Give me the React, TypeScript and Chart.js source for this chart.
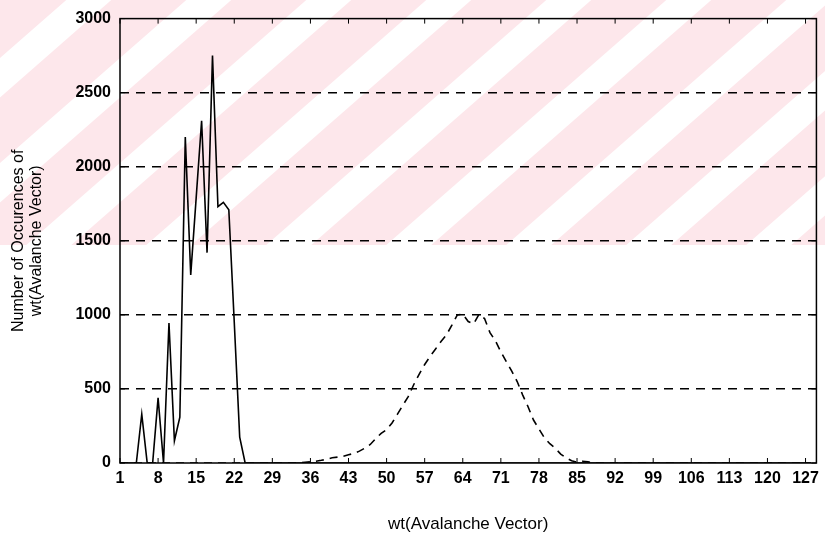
import React, { useEffect, useRef } from "react";
import { Chart, registerables } from "chart.js";

Chart.register(...registerables);

const xTickLabels = [1, 8, 15, 22, 29, 36, 43, 50, 57, 64, 71, 78, 85, 92, 99, 106, 113, 120, 127];
const yTickValues = [0, 500, 1000, 1500, 2000, 2500, 3000];

// solid series: x = 1..24, zero afterwards up to 128
const solidX = [1, 2, 3, 4, 5, 6, 7, 8, 9, 10, 11, 12, 13, 14, 15, 16, 17, 18, 19, 20, 21, 22, 23, 24, 128];
const solidY = [0, 0, 0, 0, 330, 0, 0, 440, 0, 945, 150, 310, 2200, 1270, 1790, 2310, 1420, 2750, 1730, 1760, 1710, 950, 175, 0, 0];

// dashed series
const dashedX = [1, 33, 34, 35, 36, 37, 38, 39, 40, 41, 42, 43, 44, 45, 46, 47, 48, 49, 50, 51, 52, 53, 54, 55, 56, 57, 58, 59, 60, 61, 62, 63, 64, 65, 66, 67, 68, 69, 70, 71, 72, 73, 74, 75, 76, 77, 78, 79, 80, 81, 82, 83, 84, 85, 86, 87, 88, 128];
const dashedY = [0, 0, 2, 5, 8, 12, 18, 25, 35, 40, 45, 55, 65, 80, 100, 125, 165, 200, 225, 270, 330, 390, 450, 530, 600, 665, 720, 770, 820, 865, 930, 1000, 1005, 955, 940, 1005, 975, 880, 825, 750, 685, 620, 550, 460, 380, 290, 230, 170, 130, 100, 60, 35, 15, 5, 12, 8, 0, 0];

const FONT = "Liberation Sans, Arial, Helvetica, sans-serif";

const watermark = {
  id: "watermark",
  beforeDraw(chart: any) {
    const ctx = chart.ctx;
    const w = chart.width;
    const h = 245;
    ctx.save();
    ctx.beginPath();
    ctx.rect(0, 0, w, h);
    ctx.clip();
    ctx.fillStyle = "#fde7eb";
    ctx.fillRect(0, 0, w, h);
    ctx.fillStyle = "#ffffff";
    // white diagonal bands (lower-left to upper-right)
    const slope = 0.875;
    const period = 120;
    const bw = 45;
    for (let c = -400; c < 1200; c += period) {
      const dx = 300 / slope;
      ctx.beginPath();
      ctx.moveTo(c - dx, 300 + 93);
      ctx.lineTo(c + dx, -300 + 93);
      ctx.lineTo(c + dx + bw, -300 + 93);
      ctx.lineTo(c - dx + bw, 300 + 93);
      ctx.closePath();
      ctx.fill();
    }
    ctx.restore();
  },
};

const frame = {
  id: "frame",
  afterDatasetsDraw(chart: any) {
    const { ctx, chartArea } = chart;
    const { left, right, top, bottom } = chartArea;
    const xs = chart.scales.x;
    const ys = chart.scales.y;
    ctx.save();
    ctx.strokeStyle = "#000";
    ctx.lineWidth = 1.5;
    ctx.strokeRect(left, top, right - left, bottom - top);
    ctx.lineWidth = 1;
    ctx.beginPath();
    for (const v of xTickLabels) {
      const px = xs.getPixelForValue(v);
      ctx.moveTo(px, bottom);
      ctx.lineTo(px, bottom - 5);
      ctx.moveTo(px, top);
      ctx.lineTo(px, top + 5);
    }
    for (const v of yTickValues) {
      const py = ys.getPixelForValue(v);
      ctx.moveTo(left, py);
      ctx.lineTo(left + 5, py);
      ctx.moveTo(right, py);
      ctx.lineTo(right - 5, py);
    }
    ctx.stroke();
    ctx.restore();
  },
};

export default function App() {
  const ref = useRef<HTMLCanvasElement>(null);
  useEffect(() => {
    if (!ref.current) return;
    const chart = new Chart(ref.current, {
      type: "line",
      data: {
        datasets: [
          {
            data: solidX.map((x, i) => ({ x, y: solidY[i] })),
            borderColor: "#000",
            borderWidth: 1.6,
            pointRadius: 0,
            tension: 0,
            fill: false,
          },
          {
            data: dashedX.map((x, i) => ({ x, y: dashedY[i] })),
            borderColor: "#000",
            borderWidth: 1.6,
            borderDash: [8, 6],
            pointRadius: 0,
            tension: 0,
            fill: false,
          },
        ],
      },
      plugins: [watermark, frame],
      options: {
        animation: false,
        responsive: false,
        maintainAspectRatio: false,
        layout: { padding: { left: 0, right: 7, top: 15, bottom: 0 } },
        plugins: { legend: { display: false }, tooltip: { enabled: false } },
        scales: {
          x: {
            type: "linear",
            min: 1,
            max: 129,
            afterBuildTicks: (s: any) => {
              s.ticks = xTickLabels.map((v) => ({ value: v }));
            },
            afterFit: (s: any) => {
              s.height = 76;
            },
            grid: { display: false, drawTicks: false },
            border: { display: false },
            ticks: {
              color: "#000",
              padding: 6,
              maxRotation: 0,
              autoSkip: false,
              callback: (v: any) => String(v),
              font: { family: FONT, size: 16, weight: "bold" },
            },
            title: {
              display: true,
              text: "wt(Avalanche Vector)",
              color: "#000",
              padding: { top: 0, bottom: 4 },
              font: { family: FONT, size: 17 },
            },
          },
          y: {
            min: 0,
            max: 3000,
            afterBuildTicks: (s: any) => {
              s.ticks = yTickValues.map((v) => ({ value: v }));
            },
            afterFit: (s: any) => {
              s.width = 120;
            },
            grid: {
              display: true,
              drawTicks: false,
              color: (c: any) => (c.tick && (c.tick.value === 0 || c.tick.value === 3000) ? "rgba(0,0,0,0)" : "#000"),
              lineWidth: 1.4,
            },
            border: { display: false, dash: [9, 7] },
            ticks: {
              color: "#000",
              padding: 9,
              callback: (v: any) => String(v),
              font: { family: FONT, size: 16, weight: "bold" },
            },
            title: {
              display: true,
              text: ["Number of Occurences of", "wt(Avalanche Vector)"],
              color: "#000",
              padding: { top: 10, bottom: 0 },
              font: { family: FONT, size: 16, lineHeight: 1.1 },
            },
          },
        },
      },
    });
    return () => chart.destroy();
  }, []);
  return (
    <div style={{ position: "fixed", left: 0, top: 0, width: 825, height: 539, background: "#fff" }}>
      <canvas ref={ref} width={825} height={539} style={{ width: 825, height: 539 }} />
    </div>
  );
}
